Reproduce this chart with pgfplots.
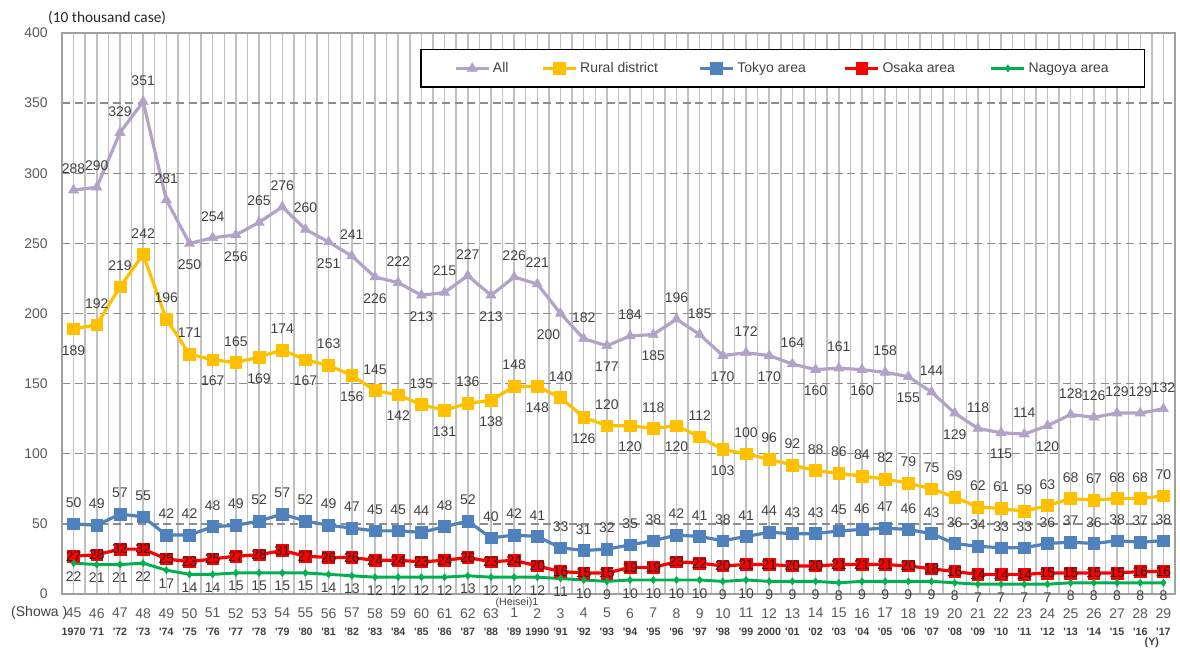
\documentclass[border=0pt]{standalone}
\usepackage{fontspec}
\setmainfont{Liberation Sans}
\newfontfamily\carl{Carlito}
\usepackage{pgfplots}
\usepackage{pgfplotstable}
\pgfplotsset{compat=1.18}
\definecolor{cAll}{HTML}{B3A2C7}
\definecolor{cRural}{HTML}{FFC000}
\definecolor{cTokyo}{HTML}{4F81BD}
\definecolor{cOsaka}{HTML}{FF0000}
\definecolor{cNagoya}{HTML}{00B050}
\definecolor{cLbl}{HTML}{404040}
\definecolor{cTick}{HTML}{595959}
\definecolor{cGridV}{HTML}{C0C0C0}
\definecolor{cGridH}{HTML}{8C8C8C}
\definecolor{cAxis}{HTML}{A0A0A0}
\newcommand\fnt{\fontsize{10.5}{12.6}\selectfont}
\newcommand\yr[1]{{\fontsize{8}{9}\selectfont\bfseries\color{cLbl}#1}}
\newcommand\q{\textquotesingle}

\pgfplotstableread{
x y a
0 288 south
1 290 south
2 329 south
3 351 south
4 281 south
5 250 north
6 254 south
7 256 north
8 265 south
9 276 south
10 260 south
11 251 north
12 241 south
13 226 north
14 222 south
15 213 north
16 215 south
17 227 south
18 213 north
19 226 south
20 221 south
21 200 60
22 182 south
23 177 north
24 184 south
25 185 north
26 196 south
27 185 south
28 170 north
29 172 south
30 170 north
31 164 south
32 160 north
33 161 south
34 160 north
35 158 south
36 155 north
37 144 south
38 129 north
39 118 south
40 115 north
41 114 south
42 120 north
43 128 south
44 126 south
45 129 south
46 129 south
47 132 south
}\tAll

\pgfplotstableread{
x y a
0 189 north
1 192 south
2 219 south
3 242 south
4 196 south
5 171 south
6 167 north
7 165 south
8 169 north
9 174 south
10 167 north
11 163 south
12 156 north
13 145 south
14 142 north
15 135 south
16 131 north
17 136 south
18 138 north
19 148 south
20 148 north
21 140 south
22 126 north
23 120 south
24 120 north
25 118 south
26 120 north
27 112 south
28 103 north
29 100 south
30 96 south
31 92 south
32 88 south
33 86 south
34 84 south
35 82 south
36 79 south
37 75 south
38 69 south
39 62 south
40 61 south
41 59 south
42 63 south
43 68 south
44 67 south
45 68 south
46 68 south
47 70 south
}\tRural

\pgfplotstableread{
x y a
0 50 south
1 49 south
2 57 south
3 55 south
4 42 south
5 42 south
6 48 south
7 49 south
8 52 south
9 57 south
10 52 south
11 49 south
12 47 south
13 45 south
14 45 south
15 44 south
16 48 south
17 52 south
18 40 south
19 42 south
20 41 south
21 33 south
22 31 south
23 32 south
24 35 south
25 38 south
26 42 south
27 41 south
28 38 south
29 41 south
30 44 south
31 43 south
32 43 south
33 45 south
34 46 south
35 47 south
36 46 south
37 43 south
38 36 south
39 34 south
40 33 south
41 33 south
42 36 south
43 37 south
44 36 south
45 38 south
46 37 south
47 38 south
}\tTokyo

\pgfplotstableread{
x y a
0 27 center
1 28 center
2 32 center
3 32 center
4 25 center
5 23 center
6 25 center
7 27 center
8 28 center
9 31 center
10 27 center
11 26 center
12 26 center
13 24 center
14 24 center
15 23 center
16 24 center
17 26 center
18 23 center
19 24 center
20 20 center
21 16 center
22 15 center
23 15 center
24 19 center
25 19 center
26 23 center
27 22 center
28 20 center
29 21 center
30 21 center
31 20 center
32 20 center
33 21 center
34 21 center
35 21 center
36 20 center
37 18 center
38 16 center
39 14 center
40 14 center
41 14 center
42 15 center
43 15 center
44 15 center
45 15 center
46 16 center
47 16 center
}\tOsaka

\pgfplotstableread{
x y a
0 22 north
1 21 north
2 21 north
3 22 north
4 17 north
5 14 north
6 14 north
7 15 north
8 15 north
9 15 north
10 15 north
11 14 north
12 13 north
13 12 north
14 12 north
15 12 north
16 12 north
17 13 north
18 12 north
19 12 north
20 12 north
21 11 north
22 10 north
23 9 north
24 10 north
25 10 north
26 10 north
27 10 north
28 9 north
29 10 north
30 9 north
31 9 north
32 9 north
33 8 north
34 9 north
35 9 north
36 9 north
37 9 north
38 8 north
39 7 north
40 7 north
41 7 north
42 7 north
43 8 north
44 8 north
45 8 north
46 8 north
47 8 north
}\tNagoya

\pgfplotsset{
  lbl/.style={point meta=explicit symbolic,
    visualization depends on={y \as \rawy},
    nodes near coords={\pgfmathprintnumber{\rawy}},
    every node near coord/.append style={anchor=\pgfplotspointmeta, inner xsep=0pt, inner ysep=#1, font=\fnt, text=cLbl}},
}

\begin{document}
\begin{tikzpicture}
\useasboundingbox (-46.5pt,-42pt) rectangle (838.5pt,445.5pt);
\begin{axis}[
  scale only axis, width=834.75pt, height=420.75pt,
  xmin=-0.5, xmax=47.5, ymin=0, ymax=400,
  clip=false,
  /pgf/number format/assume math mode=true,
  xtick={0,...,47},
  xticklabels={45\\\yr{1970},46\\\yr{\q71},47\\\yr{\q72},48\\\yr{\q73},49\\\yr{\q74},50\\\yr{\q75},51\\\yr{\q76},52\\\yr{\q77},53\\\yr{\q78},54\\\yr{\q79},55\\\yr{\q80},56\\\yr{\q81},57\\\yr{\q82},58\\\yr{\q83},59\\\yr{\q84},60\\\yr{\q85},61\\\yr{\q86},62\\\yr{\q87},63\\\yr{\q88},1\\\yr{\q89},2\\\yr{1990},3\\\yr{\q91},4\\\yr{\q92},5\\\yr{\q93},6\\\yr{\q94},7\\\yr{\q95},8\\\yr{\q96},9\\\yr{\q97},10\\\yr{\q98},11\\\yr{\q99},12\\\yr{2000},13\\\yr{\q01},14\\\yr{\q02},15\\\yr{\q03},16\\\yr{\q04},17\\\yr{\q05},18\\\yr{\q06},19\\\yr{\q07},20\\\yr{\q08},21\\\yr{\q09},22\\\yr{\q10},23\\\yr{\q11},24\\\yr{\q12},25\\\yr{\q13},26\\\yr{\q14},27\\\yr{\q15},28\\\yr{\q16},29\\\yr{\q17}},
  xticklabel style={align=center, font=\fontsize{10.5}{13.2}\selectfont, text=cTick, inner sep=0pt, yshift=-10.5pt},
  minor x tick num=1,
  ytick={0,50,...,400},
  yticklabel style={font=\fnt, text=cTick, inner sep=0pt, xshift=-10.5pt},
  xmajorgrids, xminorgrids, ymajorgrids,
  major x grid style={color=cGridV, line width=1.1pt},
  minor x grid style={color=cGridV, line width=1.1pt},
  major y grid style={color=cGridH, line width=1.1pt, dash pattern=on 6pt off 3.5pt},
  axis line style={color=cAxis, line width=1.1pt},
  major tick length=0pt, minor tick length=0pt,
  legend image code/.code={\draw[mark repeat=2,mark phase=2,#1] plot coordinates {(0pt,0pt) (12.4pt,0pt) (24.75pt,0pt)};},
  legend columns=5,
  legend style={at={(rel axis cs:0.3217,0.9715)}, anchor=north west, draw=black, line width=1.1pt,
    font=\fnt, text=cLbl, inner xsep=25pt, inner ysep=7.5pt,
    /tikz/every even column/.append style={column sep=0pt}},
]
\addplot[forget plot, color=cAll, line width=2.4pt, mark=triangle*, mark size=4.3pt, mark options={solid, line width=0.5pt, fill=cAll}, lbl=12pt] table[x=x,y=y,meta=a]{\tAll};
\addplot[forget plot, color=cRural, line width=2.4pt, mark=square*, mark size=4.4pt, mark options={solid, line width=0.5pt, fill=cRural}, lbl=12pt] table[x=x,y=y,meta=a]{\tRural};
\addplot[forget plot, color=cTokyo, line width=2.4pt, mark=square*, mark size=4.4pt, mark options={solid, line width=0.5pt, fill=cTokyo}, lbl=12pt] table[x=x,y=y,meta=a]{\tTokyo};
\addplot[forget plot, color=cOsaka, line width=2.4pt, mark=square*, mark size=4.4pt, mark options={solid, line width=0.5pt, fill=cOsaka}] table[x=x,y=y]{\tOsaka};
\addplot[forget plot, draw=none, mark=none, lbl=0pt, every node near coord/.append style={text=black!85}] table[x=x,y=y,meta=a]{\tOsaka};
\addplot[forget plot, color=cNagoya, line width=2.2pt, mark=diamond*, mark size=2.6pt, mark options={solid, line width=0.5pt, fill=cNagoya}, lbl=6pt] table[x=x,y=y,meta=a]{\tNagoya};
\addlegendimage{color=cAll, line width=2.4pt, mark=triangle*, mark size=4.3pt, mark options={solid, line width=0.5pt, fill=cAll}}
\addlegendentry{\makebox[34.25pt][l]{All}}
\addlegendimage{color=cRural, line width=2.4pt, mark=square*, mark size=4.4pt, mark options={solid, line width=0.5pt, fill=cRural}}
\addlegendentry{\makebox[86.75pt][l]{Rural district}}
\addlegendimage{color=cTokyo, line width=2.4pt, mark=square*, mark size=4.4pt, mark options={solid, line width=0.5pt, fill=cTokyo}}
\addlegendentry{\makebox[77.75pt][l]{Tokyo area}}
\addlegendimage{color=cOsaka, line width=2.4pt, mark=square*, mark size=4.4pt, mark options={solid, line width=0.5pt, fill=cOsaka}}
\addlegendentry{\makebox[78.5pt][l]{Osaka area}}
\addlegendimage{color=cNagoya, line width=2.2pt, mark=diamond*, mark size=2.6pt, mark options={solid, line width=0.5pt, fill=cNagoya}}
\addlegendentry{Nagoya area}
\node[anchor=west, font=\carl\fontsize{11.5}{13}\selectfont, text=black!85, inner sep=0pt] at (rel axis cs:-0.0126,1.0267) {(10 thousand case)};
\node[anchor=east, font=\fnt, text=cLbl, yshift=-14.25pt] at (axis cs:-0.07,0) {(Showa )};
\node[font=\fontsize{8}{9}\selectfont, text=cLbl, yshift=-6.6pt, inner sep=0pt] at (axis cs:19.12,0) {(Heisei)1};
\node[font=\fontsize{8}{9}\selectfont\bfseries, text=cLbl, yshift=-36.75pt] at (axis cs:46.5,0) {(Y)};
\end{axis}
\end{tikzpicture}
\end{document}
